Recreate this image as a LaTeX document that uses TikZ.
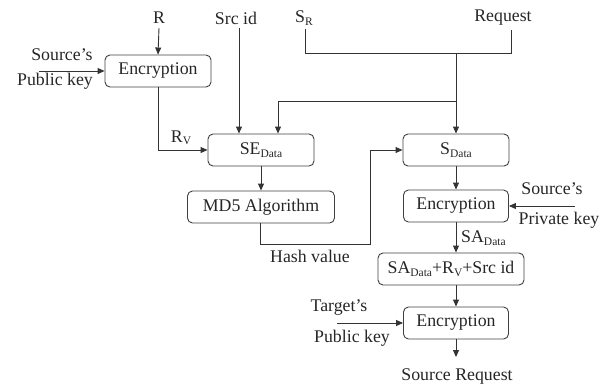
\documentclass[tikz,border=0pt]{standalone}
\usepackage{fontspec}
\setmainfont{Liberation Serif}
\usetikzlibrary{arrows.meta}
\newcommand\mysub[1]{\raisebox{-0.3ex}{\fontsize{11.5}{12}\selectfont #1}}
\begin{document}
\begin{tikzpicture}[x=1pt,y=-1pt,
  every node/.style={font=\fontsize{17.8}{20}\selectfont, text=black!85},
  box/.style={draw=black!75, line width=0.9pt, rounded corners=5pt, minimum height=32pt, inner sep=0pt},
  lbl/.style={inner sep=1pt},
  arr/.style={draw=black!80, line width=0.9pt, -{Triangle[length=7pt,width=6pt]}},
  ln/.style={draw=black!80, line width=0.9pt}]
\useasboundingbox (0,0) rectangle (602,383);
% boxes
\node[box, minimum width=106pt] (enc1) at (158,71) {Encryption};
\node[box, minimum width=106pt] (se) at (261,150) {SE\mysub{Data}};
\node[box, minimum width=106pt] (sdata) at (456,150) {S\mysub{Data}};
\node[box, minimum width=147pt] (md5) at (261,207) {MD5 Algorithm};
\node[box, minimum width=105pt] (enc2) at (456,206) {Encryption};
\node[box, minimum width=146pt] (box3) at (451,269) {SA\mysub{Data}+R\mysub{V}+Src id};
\node[box, minimum width=105pt] (enc3) at (456,323) {Encryption};
% texts
\node[lbl] (R) at (159,18) {R};
\node[lbl] (srcid) at (236,18) {Src id};
\node[lbl] (sr) at (304,18) {S\mysub{R}};
\node[lbl] (req) at (503,18) {Request};
\node[lbl] (spk1) at (62,55) {Source’s};
\node[lbl] (ppk1) at (55,81) {Public key};
\node[lbl] (rv) at (181,138) {R\mysub{V}};
\node[lbl] (hash) at (310,256) {Hash value};
\node[lbl] (spk2) at (552,189) {Source’s};
\node[lbl] (ppk2) at (559,220) {Private key};
\node[lbl, anchor=west] (sad) at (460,238) {SA\mysub{Data}};
\node[lbl] (tpk) at (339,307) {Target’s};
\node[lbl] (tpub) at (352,338) {Public key};
\node[lbl] (out) at (457,376) {Source Request};
% coordinates
\coordinate (j1) at (456,53);
\coordinate (j2) at (456,101);
\coordinate (h1) at (370,244);
\coordinate (pk1) at (39,71);
\coordinate (pk2) at (575,206);
\coordinate (pk3) at (337,323);
\coordinate (o) at (456,357);
% connectors
\draw[arr] ([yshift=-3pt]R.south) -- (enc1.north);
\draw[arr] (pk1) -- (enc1.west);
\draw[arr] (enc1.south) |- (se.west);
\draw[arr] ([xshift=3pt,yshift=-3pt]srcid.south) -- ([xshift=3pt]srcid.south |- se.north);
\draw[ln] ([xshift=1pt,yshift=-3pt]sr.south) -- ([xshift=1pt]sr.south |- j1) -- ([xshift=8pt]req.south |- j1) -- ([xshift=8pt,yshift=-3pt]req.south);
\draw[arr] (j1) -- (sdata.north);
\draw[arr] (j2) -| ([xshift=17pt]se.north);
\draw[arr] (se.south) -- (md5.north);
\draw[arr] ([xshift=-1pt]md5.south) |- (h1) |- (sdata.west);
\draw[arr] (sdata.south) -- (enc2.north);
\draw[arr] (pk2) -- (enc2.east);
\draw[arr] (enc2.south) -- (enc2.south |- box3.north);
\draw[arr] (enc2.south |- box3.south) -- (enc3.north);
\draw[arr] (pk3) -- (enc3.west);
\draw[arr] (enc3.south) -- (o);
\end{tikzpicture}
\end{document}
